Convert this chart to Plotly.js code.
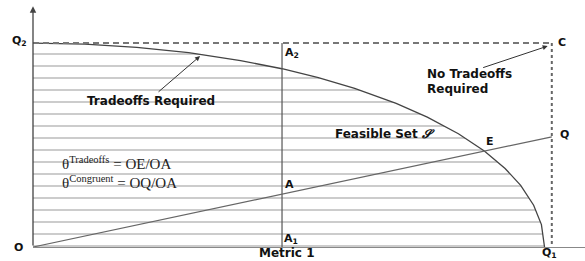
<!DOCTYPE html>
<html>
<head>
<meta charset="utf-8">
<script src="https://cdn.plot.ly/plotly-3.0.1.min.js"></script>
<style>html,body{margin:0;padding:0;background:#fff}#chart{width:585px;height:261px}</style>
</head>
<body>
<div id="chart"></div>
<script>
// Feasible-set frontier (Q2 -> Q1)
const frontierX = [0, 10, 20, 30, 40, 48, 55, 62, 70, 76, 82, 87, 91, 94, 96.5, 98, 98.6];
const frontierY = [100, 99.5, 97.9, 95.3, 91.4, 87.4, 83.0, 77.8, 70.4, 63.7, 55.5, 47.1, 38.5, 30.2, 20.5, 11.0, 0];
// Ray O -> Q
const rayX = [0, 100];
const rayY = [0, 54];
// Ideal box Q2 -> C -> Q1 side
const boxTopX = [0, 100];
const boxTopY = [100, 100];
const boxSideX = [100, 100];
const boxSideY = [100, 0];
// Vertical line through A (A1 -> A2)
const aLineX = [48, 48];
const aLineY = [0, 100];
// Labelled points
const pointNames = ['Q<sub>2</sub>', 'O', 'A<sub>2</sub>', 'A', 'A<sub>1</sub>', 'C', 'Q', 'E', 'Q<sub>1</sub>'];
const pointX = [0, 0, 48, 48, 48, 100, 100, 87, 100];
const pointY = [100, 0, 100, 26, 0, 100, 54, 47, 0];
const axisXLabel = 'Metric 1';
const axisYLabel = 'Metric 2';

const lbl = {family: 'DejaVu Sans, Arial, sans-serif', size: 11, color: '#111', weight: 'bold'};
const big = {family: 'DejaVu Sans, Arial, sans-serif', size: 12, color: '#111', weight: 'bold'};
const serif = {family: 'Liberation Serif, Times New Roman, serif', size: 15, color: '#222'};

const traces = [
  {x: frontierX, y: frontierY, type: 'scatter', mode: 'lines', fill: 'tozeroy',
   fillcolor: 'rgba(255,255,255,0)',
   fillpattern: {shape: '-', size: 12, solidity: 0.12, fgcolor: '#b8b8b8', bgcolor: 'rgba(255,255,255,0)'},
   line: {color: '#444', width: 1.3}, hoverinfo: 'skip'},
  {x: boxTopX, y: boxTopY, type: 'scatter', mode: 'lines', line: {color: '#777', width: 2, dash: '6px,4px'}, hoverinfo: 'skip'},
  {x: boxSideX, y: boxSideY, type: 'scatter', mode: 'lines', line: {color: '#666', width: 2, dash: 'dot'}, hoverinfo: 'skip'},
  {x: aLineX, y: aLineY, type: 'scatter', mode: 'lines', line: {color: '#555', width: 1.2}, hoverinfo: 'skip'},
  {x: rayX, y: rayY, type: 'scatter', mode: 'lines', line: {color: '#666', width: 1.2}, hoverinfo: 'skip'}
];

const pos = {
  'Q<sub>2</sub>': {xanchor: 'right', yanchor: 'middle', xshift: -4, yshift: 2},
  'O': {xanchor: 'right', yanchor: 'middle', xshift: -8, yshift: 0},
  'A<sub>2</sub>': {xanchor: 'left', yanchor: 'top', xshift: 1, yshift: -1},
  'A': {xanchor: 'left', yanchor: 'bottom', xshift: 1, yshift: 1},
  'A<sub>1</sub>': {xanchor: 'left', yanchor: 'bottom', xshift: 0, yshift: -1},
  'C': {xanchor: 'left', yanchor: 'middle', xshift: 4, yshift: 1},
  'Q': {xanchor: 'left', yanchor: 'middle', xshift: 6, yshift: 2},
  'E': {xanchor: 'left', yanchor: 'bottom', xshift: 0, yshift: 1},
  'Q<sub>1</sub>': {xanchor: 'center', yanchor: 'top', xshift: -2, yshift: 3}
};

const annotations = pointNames.map((n, i) => Object.assign({
  x: pointX[i], y: pointY[i], xref: 'x', yref: 'y', text: n, showarrow: false,
  font: lbl
}, pos[n]));

annotations.push(
  // y-axis arrow
  {x: 0, y: 118, ax: 0, ay: 0, xref: 'x', yref: 'y', axref: 'x', ayref: 'y', text: '',
   showarrow: true, arrowhead: 2, arrowsize: 1, arrowwidth: 1.3, arrowcolor: '#444'},
  {x: 49, y: 0, xref: 'x', yref: 'y', text: axisXLabel, showarrow: false, font: big,
   xanchor: 'center', yanchor: 'top', yshift: 3},
  {x: -2.8, y: 52.5, xref: 'x', yref: 'y', text: axisYLabel, showarrow: false, font: lbl,
   textangle: -90, xanchor: 'center', yanchor: 'middle'},
  {x: 22.7, y: 71.6, xref: 'x', yref: 'y', text: 'Tradeoffs Required', showarrow: false, font: big,
   xanchor: 'center', yanchor: 'middle'},
  {x: 32.2, y: 93.6, xref: 'x', yref: 'y', ax: -43, ay: 37, text: '', showarrow: true,
   arrowhead: 2, arrowsize: 1, arrowwidth: 1, arrowcolor: '#333'},
  {x: 75.6, y: 84.8, xref: 'x', yref: 'y', text: 'No Tradeoffs', showarrow: false, font: big,
   xanchor: 'left', yanchor: 'middle'},
  {x: 75.6, y: 77.6, xref: 'x', yref: 'y', text: 'Required', showarrow: false, font: big,
   xanchor: 'left', yanchor: 'middle'},
  {x: 99.2, y: 98.5, xref: 'x', yref: 'y', ax: -66, ay: 22, text: '', showarrow: true,
   arrowhead: 2, arrowsize: 1, arrowwidth: 1, arrowcolor: '#333'},
  {x: 57.8, y: 55.5, xref: 'x', yref: 'y', text: 'Feasible Set <i>𝓢</i>', showarrow: false, font: big,
   xanchor: 'left', yanchor: 'middle'},
  {x: 5.2, y: 41.2, xref: 'x', yref: 'y', text: 'θ<sup>Tradeoffs</sup> = OE/OA', showarrow: false,
   font: serif, xanchor: 'left', yanchor: 'middle'},
  {x: 5.2, y: 31.9, xref: 'x', yref: 'y', text: 'θ<sup>Congruent</sup> = OQ/OA', showarrow: false,
   font: serif, xanchor: 'left', yanchor: 'middle'}
);

const layout = {
  width: 585, height: 261,
  margin: {l: 33, r: 0, t: 0, b: 14, pad: 0},
  paper_bgcolor: '#fff', plot_bgcolor: '#fff',
  showlegend: false,
  xaxis: {range: [0, 106.4], showgrid: false, zeroline: false, showticklabels: false, ticks: '',
          showline: true, linecolor: '#888', linewidth: 1.3, fixedrange: true},
  yaxis: {range: [0, 121.1], showgrid: false, zeroline: false, showticklabels: false, ticks: '',
          showline: false, fixedrange: true},
  annotations: annotations
};

Plotly.newPlot('chart', traces, layout, {displayModeBar: false, staticPlot: true});
</script>
</body>
</html>
